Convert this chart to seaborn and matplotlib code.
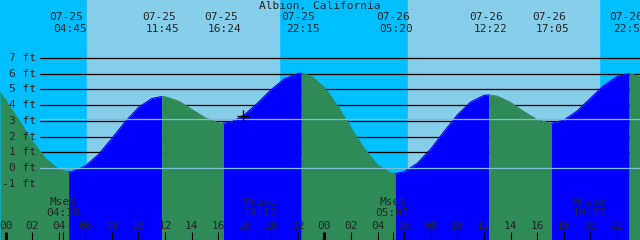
import pandas as pd
import matplotlib.pyplot as plt
import seaborn as sns

# tide curve (hours since 07-25 00:00, feet)
hours = [-0.41, 0, 1, 2, 3, 4, 4.75, 5, 6, 7, 8, 9, 10, 11, 11.75,
         12, 13, 14, 15, 16, 16.4, 17, 18, 19, 20, 21, 22, 22.25,
         23, 24, 25, 26, 27, 28, 29, 29.33, 30, 31, 32, 33, 34, 35, 36, 36.37,
         37, 38, 39, 40, 41, 41.08, 42, 43, 44, 45, 46, 46.92, 47, 47.74]
heights = [4.80, 4.34, 3.04, 1.72, 0.61, -0.09, -0.25, -0.23, 0.12, 0.87, 1.88, 2.94, 3.85, 4.42, 4.55,
           4.54, 4.26, 3.74, 3.20, 2.88, 2.85, 2.93, 3.40, 4.16, 5.00, 5.68, 6.02, 6.03,
           5.85, 5.12, 3.94, 2.54, 1.21, 0.19, -0.32, -0.35, -0.24, 0.31, 1.22, 2.32, 3.38, 4.20, 4.62, 4.65,
           4.57, 4.17, 3.59, 3.07, 2.85, 2.85, 3.04, 3.62, 4.43, 5.24, 5.82, 6.00, 6.00, 5.79]

# high / low tide events
tide_hours = [4.75, 11.75, 16.4, 22.25, 29.33, 36.37, 41.08, 46.92]
tide_dates = ['07-25', '07-25', '07-25', '07-25', '07-26', '07-26', '07-26', '07-26']
tide_times = ['04:45', '11:45', '16:24', '22:15', '05:20', '12:22', '17:05', '22:55']

# moon events
moon_hours = [4.3, 19.2, 29.12, 43.95]
moon_names = ['Mset', 'Mrise', 'Mset', 'Mrise']
moon_times = ['04:18', '19:12', '05:07', '19:57']

# daylight
sunrise = [6.1, 30.3]
sunset = [20.58, 44.66]

levels = [-1, 0, 1, 2, 3, 4, 5, 6, 7]
now_hour, now_height = 17.9, 3.3

NIGHT = '#00BFFF'
DAY = '#87CEEB'
FALL = '#2E8B57'
RISE = '#0000FF'

sns.set_style('white')
plt.rcParams['font.family'] = ['DejaVu Sans Mono']

x0, x1 = -5.5 / 13.29, 634.5 / 13.29
y0, y1 = -72 / 15.71, 168 / 15.71

fig = plt.figure(figsize=(6.4, 2.4), dpi=100)
ax = fig.add_axes([0, 0, 1, 1])
ax.set_xlim(x0, x1)
ax.set_ylim(y0, y1)
ax.axis('off')

# sky
ax.axvspan(x0, x1, color=NIGHT, zorder=0)
for a, b in zip(sunrise, sunset):
    ax.axvspan(a, b, color=DAY, zorder=0.5)

# grid lines behind the water
for lv in levels[2:]:
    ax.axhline(lv, xmin=40 / 640, xmax=1, color='black', lw=0.9, zorder=1)

# build rising / falling pieces of the curve
tide = pd.DataFrame({'hour': hours, 'ft': heights})
bounds = [x0] + tide_hours + [x1]
pieces = []
for i in range(len(bounds) - 1):
    seg = tide[(tide['hour'] >= bounds[i] - 1e-6) & (tide['hour'] <= bounds[i + 1] + 1e-6)].copy()
    seg['seg'] = i
    seg['phase'] = 'fall' if i % 2 == 0 else 'rise'
    pieces.append(seg)
curve = pd.concat(pieces, ignore_index=True)

for i, seg in curve.groupby('seg'):
    col = FALL if seg['phase'].iloc[0] == 'fall' else RISE
    ax.fill_between(seg['hour'], seg['ft'], y0, color=col, lw=0, zorder=2)

sns.lineplot(data=curve, x='hour', y='ft', hue='phase', units='seg', estimator=None,
             palette={'fall': FALL, 'rise': RISE}, lw=0.8, legend=False, ax=ax, zorder=2.5)

# light reference lines over the water
for lv in [0, 3.1]:
    ax.axhline(lv, xmin=40 / 640, xmax=1, color='#7fbcd6', lw=0.9, zorder=3)

# y labels
ytr = ax.get_yaxis_transform()
for lv in levels:
    ax.text(36 / 640, lv, f'{lv} ft', transform=ytr, ha='right', va='center', fontsize=8, zorder=4)

# top labels
xtr = ax.get_xaxis_transform()
ax.text(0.5, 1 - 6 / 240, 'Albion, California', transform=ax.transAxes,
        ha='center', va='center', fontsize=8, zorder=4)
for h, d, t in zip(tide_hours, tide_dates, tide_times):
    ax.text(h - 0.2, 1 - 17 / 240, d, transform=xtr, ha='center', va='center', fontsize=8, zorder=4)
    ax.text(h + 0.1, 1 - 29.5 / 240, t, transform=xtr, ha='center', va='center', fontsize=8, zorder=4)

# moon labels
for h, n, t in zip(moon_hours, moon_names, moon_times):
    ax.text(h, 1 - 202 / 240, n, transform=xtr, ha='center', va='center', fontsize=8, zorder=4)
    ax.text(h, 1 - 213.5 / 240, t, transform=xtr, ha='center', va='center', fontsize=8, zorder=4)
    ax.vlines(h, 0, 8 / 240, transform=xtr, color='black', lw=0.8, zorder=4)

# hour ticks
for h in range(0, 48, 2):
    ax.text(h, 1 - 226 / 240, f'{h % 24:02d}', transform=xtr, ha='center', va='center',
            fontsize=8, zorder=4)
    ax.vlines(h, 0, 8 / 240, transform=xtr, color='black', lw=2.2 if h % 24 == 0 else 0.8, zorder=4)

# current time marker
ax.plot(now_hour, now_height, marker='+', color='black', ms=9, mew=1, zorder=5)

fig.savefig('out.png', dpi=100)
